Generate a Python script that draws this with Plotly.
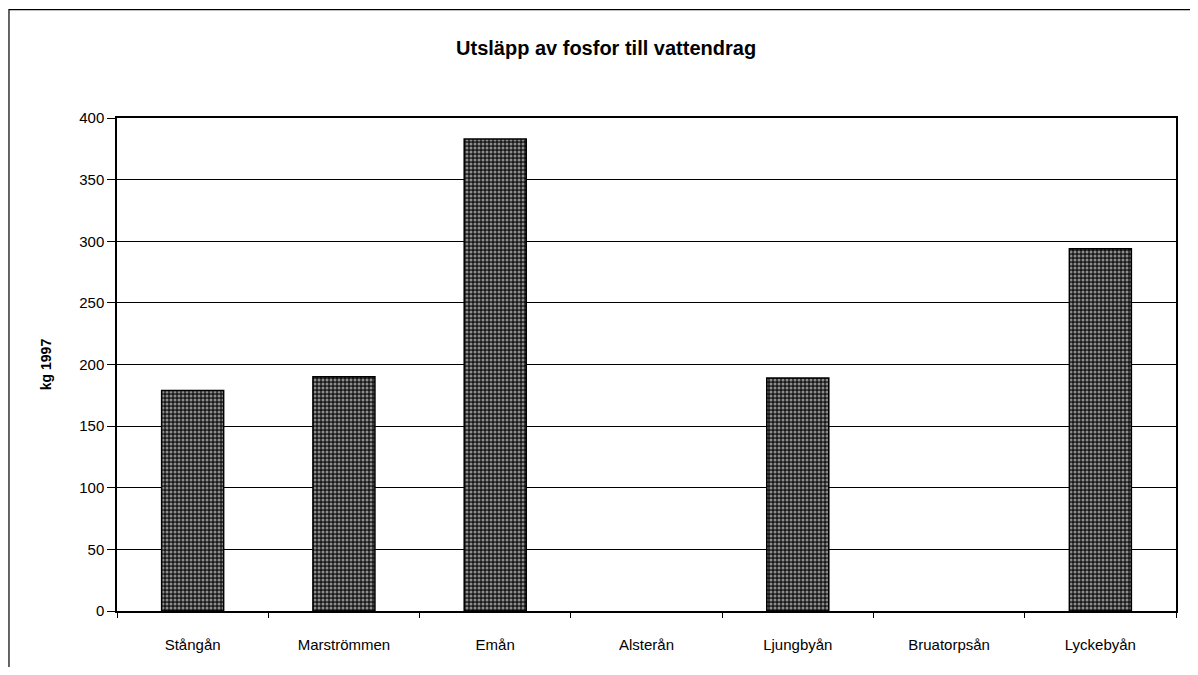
"""Utsläpp av fosfor till vattendrag - bar chart."""

import plotly.graph_objects as go

rivers = [
    "Stångån",
    "Marströmmen",
    "Emån",
    "Alsterån",
    "Ljungbyån",
    "Bruatorpsån",
    "Lyckebyån",
]
kg_1997 = [179, 190, 383, 0, 189, 0, 294]
y_ticks = [0, 50, 100, 150, 200, 250, 300, 350, 400]

FONT = "Arial, Liberation Sans, sans-serif"

fig = go.Figure()

fig.add_trace(
    go.Bar(
        x=rivers,
        y=kg_1997,
        marker=dict(
            color="#1a1a1a",
            # no outline for empty bars
            line=dict(color="black", width=[1.5 if v else 0 for v in kg_1997]),
            pattern=dict(
                shape=".",
                bgcolor="#1a1a1a",
                fgcolor="white",
                size=4,
                solidity=0.45,
            ),
        ),
        showlegend=False,
    )
)

# outer frame of the whole chart
fig.add_shape(
    type="rect", xref="paper", yref="paper",
    x0=-0.102, x1=1.05, y0=-0.2, y1=1.22,
    line=dict(color="black", width=1.2),
)

fig.update_layout(
    title=dict(
        text="<b>Utsläpp av fosfor till vattendrag</b>",
        x=0.506,
        xanchor="center",
        y=0.939,
        yanchor="middle",
        font=dict(family=FONT, size=20, color="black"),
    ),
    width=1182,
    height=659,
    margin=dict(l=109, r=14, t=110, b=56),
    paper_bgcolor="white",
    plot_bgcolor="white",
    bargap=0.59,
    font=dict(family=FONT, size=15, color="black"),
    xaxis=dict(
        showgrid=False,
        showline=True,
        mirror=True,
        linecolor="black",
        linewidth=1.5,
        ticks="outside",
        tickson="boundaries",
        ticklen=5,
        tickcolor="black",
        tickvals=rivers,
        ticktext=["<br>" + r for r in rivers],
        tickfont=dict(size=15),
    ),
    yaxis=dict(
        title=dict(text="<b>kg 1997</b>", font=dict(size=14), standoff=24),
        range=[0, 400],
        tickvals=y_ticks,
        showgrid=True,
        gridcolor="black",
        gridwidth=1,
        showline=True,
        mirror=True,
        linecolor="black",
        linewidth=1.5,
        ticks="outside",
        ticklen=8,
        tickcolor="black",
        zeroline=False,
        tickfont=dict(size=15),
    ),
)

fig.write_html("out.html")
